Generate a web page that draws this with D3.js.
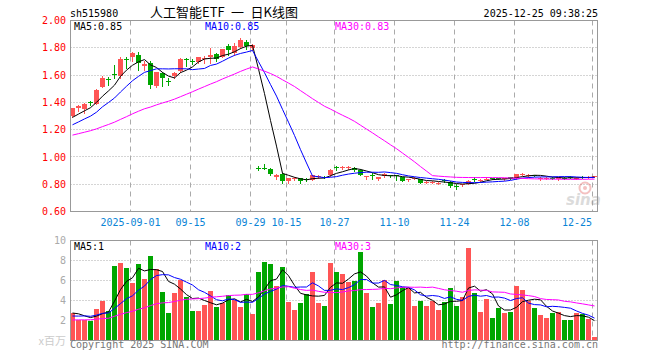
<!DOCTYPE html>
<html><head><meta charset="utf-8">
<script src="https://cdn.jsdelivr.net/npm/d3@7"></script>
<style>body{margin:0;background:#fff}svg{display:block}</style>
</head><body>
<svg id="c" width="660" height="360"></svg>
<script>
// ---------- data ----------
const dates = [
"2025-08-18","2025-08-19","2025-08-20","2025-08-21","2025-08-22","2025-08-25","2025-08-26","2025-08-27","2025-08-28","2025-08-29",
"2025-09-01","2025-09-02","2025-09-03","2025-09-04","2025-09-05","2025-09-08","2025-09-09","2025-09-10","2025-09-11","2025-09-12",
"2025-09-15","2025-09-16","2025-09-17","2025-09-18","2025-09-19","2025-09-22","2025-09-23","2025-09-24","2025-09-25","2025-09-26",
"2025-09-29","2025-09-30","2025-10-09","2025-10-10","2025-10-13","2025-10-14","2025-10-15","2025-10-16","2025-10-17","2025-10-20",
"2025-10-21","2025-10-22","2025-10-23","2025-10-24","2025-10-27","2025-10-28","2025-10-29","2025-10-30","2025-10-31","2025-11-03",
"2025-11-04","2025-11-05","2025-11-06","2025-11-07","2025-11-10","2025-11-11","2025-11-12","2025-11-13","2025-11-14","2025-11-17",
"2025-11-18","2025-11-19","2025-11-20","2025-11-21","2025-11-24","2025-11-25","2025-11-26","2025-11-27","2025-11-28","2025-12-01",
"2025-12-02","2025-12-03","2025-12-04","2025-12-05","2025-12-08","2025-12-09","2025-12-10","2025-12-11","2025-12-12","2025-12-15",
"2025-12-16","2025-12-17","2025-12-18","2025-12-19","2025-12-22","2025-12-23","2025-12-24","2025-12-25"];

const open = [
1.30,1.355,1.35,1.40,1.39,1.515,1.57,1.61,1.59,1.72,
1.73,1.75,1.665,1.69,1.52,1.615,1.56,1.595,1.63,1.715,
1.705,1.695,1.72,1.735,1.755,1.735,1.815,1.765,1.805,1.845,
1.795,0.92,0.917,0.915,0.852,0.876,0.822,0.838,0.842,0.836,
0.832,0.855,0.855,0.871,0.923,0.92,0.92,0.92,0.905,0.857,
0.866,0.835,0.857,0.866,0.868,0.852,0.833,0.84,0.835,0.815,
0.815,0.808,0.83,0.815,0.79,0.796,0.805,0.836,0.825,0.838,
0.843,0.845,0.838,0.852,0.845,0.872,0.864,0.868,0.84,0.845,
0.844,0.835,0.849,0.855,0.842,0.854,0.852,0.858];
const high = [
1.36,1.38,1.395,1.41,1.495,1.595,1.585,1.675,1.735,1.73,
1.77,1.77,1.70,1.70,1.625,1.625,1.58,1.625,1.725,1.725,
1.715,1.735,1.74,1.80,1.765,1.79,1.825,1.835,1.87,1.86,
1.83,0.93,0.945,0.918,0.873,0.885,0.845,0.85,0.845,0.847,
0.87,0.868,0.86,0.91,0.935,0.93,0.93,0.925,0.908,0.861,
0.88,0.855,0.88,0.87,0.869,0.855,0.84,0.85,0.838,0.825,
0.825,0.818,0.835,0.822,0.80,0.805,0.83,0.852,0.835,0.85,
0.848,0.848,0.848,0.855,0.878,0.882,0.872,0.87,0.85,0.855,
0.85,0.855,0.855,0.86,0.855,0.862,0.862,0.862];
const low = [
1.29,1.34,1.32,1.38,1.385,1.51,1.53,1.58,1.58,1.65,
1.70,1.64,1.64,1.505,1.51,1.52,1.53,1.58,1.625,1.67,
1.68,1.685,1.69,1.69,1.70,1.73,1.745,1.75,1.80,1.79,
1.785,0.905,0.914,0.865,0.838,0.81,0.81,0.83,0.808,0.822,
0.828,0.845,0.845,0.86,0.905,0.915,0.915,0.90,0.865,0.835,
0.84,0.83,0.85,0.855,0.83,0.825,0.826,0.835,0.81,0.81,
0.808,0.80,0.815,0.78,0.765,0.79,0.80,0.82,0.82,0.835,
0.835,0.835,0.83,0.84,0.84,0.865,0.855,0.86,0.83,0.84,
0.835,0.833,0.84,0.843,0.84,0.845,0.848,0.85];
const close = [
1.355,1.37,1.39,1.395,1.49,1.58,1.565,1.60,1.72,1.715,
1.76,1.69,1.683,1.525,1.62,1.58,1.555,1.615,1.72,1.71,
1.70,1.735,1.725,1.745,1.72,1.79,1.785,1.815,1.86,1.81,
1.82,0.915,0.915,0.876,0.871,0.822,0.842,0.842,0.822,0.832,
0.865,0.859,0.85,0.905,0.918,0.925,0.925,0.903,0.871,0.86,
0.863,0.852,0.876,0.857,0.864,0.827,0.835,0.842,0.812,0.818,
0.818,0.81,0.82,0.79,0.787,0.799,0.825,0.833,0.828,0.841,
0.841,0.838,0.842,0.847,0.875,0.876,0.866,0.864,0.842,0.847,
0.842,0.852,0.847,0.845,0.848,0.852,0.855,0.86];
const volume = [
2.8,2.1,2.1,2.0,3.2,4.0,2.95,7.5,7.8,7.3,
5.8,7.7,6.2,8.5,7.2,4.9,2.75,4.8,6.1,4.4,
2.95,2.95,3.6,5.0,3.35,3.8,4.6,4.1,3.4,4.7,
2.7,6.9,7.9,7.7,5.5,7.4,3.9,3.05,3.75,4.7,
6.9,3.75,3.45,7.8,6.9,6.7,5.9,6.0,8.8,4.8,
3.35,3.75,6.1,3.65,6.0,5.4,5.3,3.45,3.95,3.45,
3.95,3.05,3.85,5.3,3.45,4.35,9.3,4.75,2.85,4.15,
2.25,3.25,2.75,2.85,5.5,5.1,3.95,3.25,2.55,2.25,
2.75,2.85,2.05,2.05,2.75,2.65,2.15,0.35];
// sessions before the first visible candle (needed only for the moving averages)
const priorClose = [
1.05,1.07,1.06,1.09,1.08,1.10,1.09,1.11,1.12,1.13,
1.12,1.14,1.15,1.14,1.16,1.17,1.16,1.18,1.17,1.15,
1.16,1.17,1.19,1.20,1.185,1.25,1.27,1.28,1.295];
const priorVolume = [
1.6,2.1,1.7,1.5,2.3,1.9,1.6,1.8,2.4,1.7,
1.5,2.0,1.9,1.6,2.2,1.8,1.7,2.1,1.9,1.7,
2.2,1.9,2.4,2.0,2.25,2.5,3.1,2.9,2.45];

const priceTicks = [0.6,0.8,1.0,1.2,1.4,1.6,1.8,2.0];
const volTicks = [2,4,6,8,10];
const tickDates = ["2025-09-01","2025-09-15","2025-09-29","2025-10-15","2025-10-27","2025-11-10","2025-11-24","2025-12-08","2025-12-25"];
const tickLabels = ["2025-09-01","09-15","09-29","10-15","10-27","11-10","11-24","12-08","12-25"];
const maPeriods = [5,10,30];
const priceMALabels = ["MA5:0.85","MA10:0.85","MA30:0.83"];
const volMALabels = ["MA5:1","MA10:2","MA30:3"];
const titleCode = "sh515980";
const titleText = "人工智能ETF\u2002一\u2002日K线图";
const timeText = "2025-12-25 09:38:25";

// ---------- drawing ----------
const RED = "#ff5555", GREEN = "#00a600";
const maColors = ["#000000","#0000ff","#ff00ff"];
const maXs = [74, 205, 335];
const MONO = "'DejaVu Sans Mono', monospace";
const L = 70, R = 597;
const svg = d3.select("#c");

const x = d3.scaleBand().domain(d3.range(dates.length)).range([L, R]).paddingInner(1/6).paddingOuter(0);
const bw = x.bandwidth();
const cx = i => x(i) + bw / 2;
const yP = d3.scaleLinear().domain([0.6, 2.0]).range([211.5, 20.5]);
const yV = d3.scaleLinear().domain([0, 10]).range([340.5, 240.5]);
const crisp = v => Math.round(v) + 0.5;

function movingAvg(prior, arr, n) {
  const all = prior.concat(arr);
  return arr.map((_, i) => {
    const p = prior.length + i;
    return d3.mean(all.slice(p - n + 1, p + 1));
  });
}

// header
svg.append("text").attr("x", 70).attr("y", 17).attr("font-family", MONO).attr("font-size", 10).attr("fill", "#000").text(titleCode);
svg.append("text").attr("x", 150).attr("y", 17).attr("font-family", "'Noto Sans CJK SC', sans-serif").attr("font-size", 13).attr("fill", "#000").text(titleText);
svg.append("text").attr("x", 598).attr("y", 17).attr("text-anchor", "end").attr("font-family", MONO).attr("font-size", 10).attr("fill", "#000").text(timeText);

const tickIdx = tickDates.map(d => dates.indexOf(d));

function panel(y0, y1, yScale, gridVals) {
  const g = svg.append("g");
  g.selectAll("line.h").data(gridVals).join("line")
    .attr("x1", L + 0.5).attr("x2", R + 0.5)
    .attr("y1", d => crisp(yScale(d) - 0.5)).attr("y2", d => crisp(yScale(d) - 0.5))
    .attr("stroke", "#aaa").attr("stroke-dasharray", "1,2");
  g.selectAll("line.v").data(tickIdx).join("line")
    .attr("x1", d => x(d) + 0.5).attr("x2", d => x(d) + 0.5)
    .attr("y1", y0).attr("y2", y1)
    .attr("stroke", "#aaa").attr("stroke-dasharray", "5,4");
  return g;
}

// ---- price panel ----
panel(20.5, 211.5, yP, priceTicks.filter(v => v > 0.6 && v < 2.0));
const pAxis = svg.append("g").attr("transform", `translate(${L},0)`)
  .call(d3.axisLeft(yP).tickValues(priceTicks).tickSize(0).tickPadding(4).tickFormat(d3.format(".2f")));
pAxis.select(".domain").remove();
pAxis.selectAll("text").attr("font-family", MONO).attr("font-size", 10).attr("fill", "#ff0000");

const candles = svg.append("g");
candles.selectAll("line").data(dates).join("line")
  .attr("x1", (d, i) => Math.floor(cx(i)) + 0.5).attr("x2", (d, i) => Math.floor(cx(i)) + 0.5)
  .attr("y1", (d, i) => Math.round(yP(high[i]))).attr("y2", (d, i) => Math.round(yP(low[i])) + 1)
  .attr("stroke", (d, i) => close[i] >= open[i] ? RED : GREEN);
candles.selectAll("rect").data(dates).join("rect")
  .attr("x", (d, i) => x(i)).attr("width", bw)
  .attr("y", (d, i) => Math.round(yP(Math.max(open[i], close[i]))))
  .attr("height", (d, i) => Math.max(1, Math.round(yP(Math.min(open[i], close[i]))) - Math.round(yP(Math.max(open[i], close[i])))))
  .attr("fill", (d, i) => close[i] >= open[i] ? RED : GREEN);

maPeriods.forEach((n, k) => {
  const vals = movingAvg(priorClose, close, n);
  svg.append("path").datum(vals)
    .attr("d", d3.line().x((d, i) => cx(i)).y(d => yP(d)))
    .attr("fill", "none").attr("stroke", maColors[k]).attr("stroke-width", 1);
});

svg.append("g").selectAll("text").data(tickIdx).join("text")
  .attr("x", d => Math.min(x(d) + 0.5, 577))
  .attr("y", 226).attr("text-anchor", "middle")
  .attr("font-family", MONO).attr("font-size", 10).attr("fill", "#0a84d6")
  .text((d, i) => tickLabels[i]);

// watermark
const wm = svg.append("g").attr("opacity", 0.35);
wm.append("circle").attr("cx", 585).attr("cy", 188).attr("r", 5.5).attr("fill", "none").attr("stroke", "#e05050").attr("stroke-width", 2);
wm.append("circle").attr("cx", 585).attr("cy", 188).attr("r", 2).attr("fill", "#e05050");
wm.append("text").attr("x", 566).attr("y", 205).attr("font-family", "'DejaVu Sans', sans-serif").attr("font-style", "italic").attr("font-weight", "bold").attr("font-size", 15).attr("fill", "#999").text("sina");

svg.append("rect").attr("x", L + 0.5).attr("y", 20.5).attr("width", R - L).attr("height", 191).attr("fill", "none").attr("stroke", "#999");

maPeriods.forEach((n, k) => {
  svg.append("text").attr("x", maXs[k]).attr("y", 30).attr("font-family", MONO).attr("font-size", 10).attr("fill", maColors[k]).text(priceMALabels[k]);
});

// ---- volume panel ----
panel(240.5, 340.5, yV, volTicks.filter(v => v < 10));
const vAxis = svg.append("g").attr("transform", `translate(${L},0)`)
  .call(d3.axisLeft(yV).tickValues(volTicks).tickSize(0).tickPadding(4).tickFormat(d3.format("d")));
vAxis.select(".domain").remove();
vAxis.selectAll("text").attr("font-family", MONO).attr("font-size", 10).attr("fill", "#aaa");

svg.append("g").selectAll("rect").data(volume).join("rect")
  .attr("x", (d, i) => x(i)).attr("width", bw)
  .attr("y", d => Math.round(yV(d)))
  .attr("height", d => 341 - Math.round(yV(d)))
  .attr("fill", (d, i) => close[i] >= open[i] ? RED : GREEN);

maPeriods.forEach((n, k) => {
  const vals = movingAvg(priorVolume, volume, n);
  svg.append("path").datum(vals)
    .attr("d", d3.line().x((d, i) => cx(i)).y(d => yV(d)))
    .attr("fill", "none").attr("stroke", maColors[k]).attr("stroke-width", 1);
});

svg.append("rect").attr("x", L + 0.5).attr("y", 240.5).attr("width", R - L).attr("height", 100).attr("fill", "none").attr("stroke", "#999");

maPeriods.forEach((n, k) => {
  svg.append("text").attr("x", maXs[k]).attr("y", 250).attr("font-family", MONO).attr("font-size", 10).attr("fill", maColors[k]).text(volMALabels[k]);
});

svg.append("text").attr("x", 66).attr("y", 345).attr("text-anchor", "end").attr("font-family", "'Noto Sans CJK SC', sans-serif").attr("font-size", 11).attr("fill", "#ccc").text("x百万");
svg.append("text").attr("x", 70).attr("y", 348).attr("font-family", MONO).attr("font-size", 10).attr("fill", "#777").text("Copyright 2025 SINA.COM");
svg.append("text").attr("x", 598).attr("y", 348).attr("text-anchor", "end").attr("font-family", MONO).attr("font-size", 10).attr("fill", "#777").text("http://finance.sina.com.cn");
</script>
</body></html>
